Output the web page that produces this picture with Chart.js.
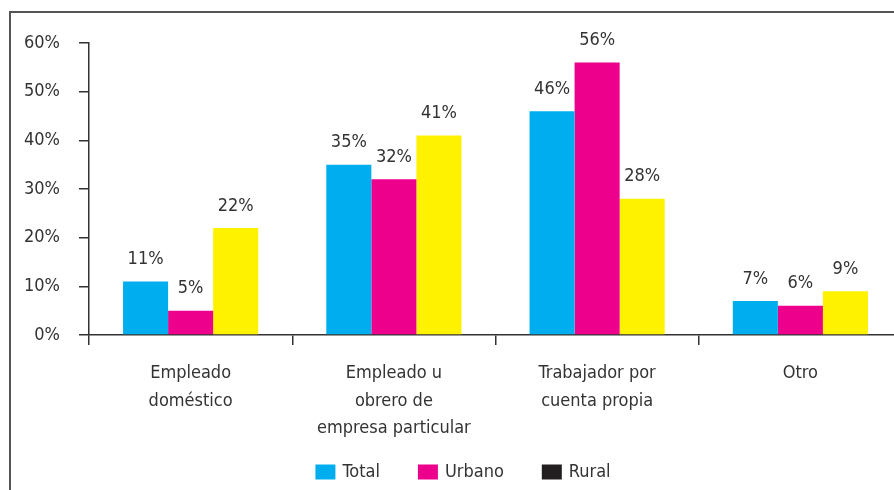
<!DOCTYPE html>
<html>
<head>
<meta charset="utf-8">
<script src="https://cdn.jsdelivr.net/npm/chart.js@4"></script>
<style>
  html, body { margin: 0; padding: 0; background: #fff; overflow: hidden; }
  #wrap { position: relative; width: 894px; height: 490px; overflow: hidden; }
  #frame { position: absolute; left: 9px; top: 11px; width: 900px; height: 490px;
           border-top: 2px solid #555; border-left: 2px solid #555; box-sizing: border-box; }
  #c { position: absolute; left: 0; top: 0; }
</style>
</head>
<body>
<div id="wrap">
  <div id="frame"></div>
  <canvas id="c" width="910" height="490"></canvas>
</div>
<script>
const categories = [
    ['Empleado', 'doméstico'],
    ['Empleado u', 'obrero de', 'empresa particular'],
    ['Trabajador por', 'cuenta propia'],
    ['Otro'],
];
const totalValues = [11, 35, 46, 7];
const urbanoValues = [5, 32, 56, 6];
const ruralValues = [22, 41, 28, 9];
const yTicks = [0, 10, 20, 30, 40, 50, 60];

const FONT = '"Liberation Sans Narrow", "DejaVu Sans Condensed", "Roboto Condensed", sans-serif';
const TEXT = '#333333';
const legendColors = ['#00aeef', '#ec008c', '#231f20'];

// value labels above each bar
const barLabels = {
    id: 'barLabels',
    afterDatasetsDraw(chart) {
        const ctx = chart.ctx;
        ctx.save();
        ctx.font = '18px ' + FONT;
        ctx.fillStyle = TEXT;
        ctx.textAlign = 'center';
        ctx.textBaseline = 'middle';
        chart.data.datasets.forEach((ds, i) => {
            chart.getDatasetMeta(i).data.forEach((bar, j) => {
                ctx.fillText(ds.data[j] + '%', bar.x, bar.y - 22);
            });
        });
        ctx.restore();
    }
};

// legend row under the axis labels, wider spacing than the built-in one allows
const bottomLegend = {
    id: 'bottomLegend',
    afterDraw(chart) {
        const ctx = chart.ctx;
        const box = 20, boxH = 15, textGap = 7, itemGap = 38, y = 472;
        ctx.save();
        ctx.font = '18px ' + FONT;
        ctx.textBaseline = 'middle';
        const items = chart.data.datasets.map((ds, i) => ({
            text: ds.label, color: legendColors[i], w: box + textGap + ctx.measureText(ds.label).width,
        }));
        const total = items.reduce((s, it) => s + it.w, 0) + itemGap * (items.length - 1);
        let x = 463 - total / 2;
        items.forEach(it => {
            ctx.fillStyle = it.color;
            ctx.fillRect(x, y - boxH / 2, box, boxH);
            ctx.fillStyle = TEXT;
            ctx.fillText(it.text, x + box + textGap, y);
            x += it.w + itemGap;
        });
        ctx.restore();
    }
};

new Chart(document.getElementById('c'), {
    type: 'bar',
    data: {
        labels: categories,
        datasets: [
            { label: 'Total', data: totalValues, backgroundColor: '#00aeef' },
            { label: 'Urbano', data: urbanoValues, backgroundColor: '#ec008c' },
            { label: 'Rural', data: ruralValues, backgroundColor: '#fff200' },
        ]
    },
    options: {
        responsive: false,
        animation: false,
        categoryPercentage: 0.665,
        barPercentage: 1,
        layout: { padding: { top: 43, right: 8, left: 0, bottom: 43 } },
        plugins: {
            tooltip: { enabled: false },
            legend: { display: false },
        },
        scales: {
            x: {
                afterFit: axis => { axis.height = 112; },
                grid: { display: true, drawOnChartArea: false, offset: true, tickLength: 10, color: '#333', lineWidth: 1.5 },
                border: { color: '#333', width: 1.5 },
                ticks: { color: TEXT, font: { family: FONT, size: 18, lineHeight: 1.55 }, padding: 14, maxRotation: 0, autoSkip: false },
            },
            y: {
                min: 0, max: 60,
                afterFit: axis => { axis.width = 89; },
                afterBuildTicks: axis => { axis.ticks = yTicks.map(v => ({ value: v })); },
                grid: { display: true, drawOnChartArea: false, tickLength: 10, color: '#333', lineWidth: 1.5 },
                border: { color: '#333', width: 1.5 },
                ticks: { color: TEXT, font: { family: FONT, size: 18 }, padding: 19, callback: v => v + '%' },
            },
        },
    },
    plugins: [barLabels, bottomLegend],
});
</script>
</body>
</html>
